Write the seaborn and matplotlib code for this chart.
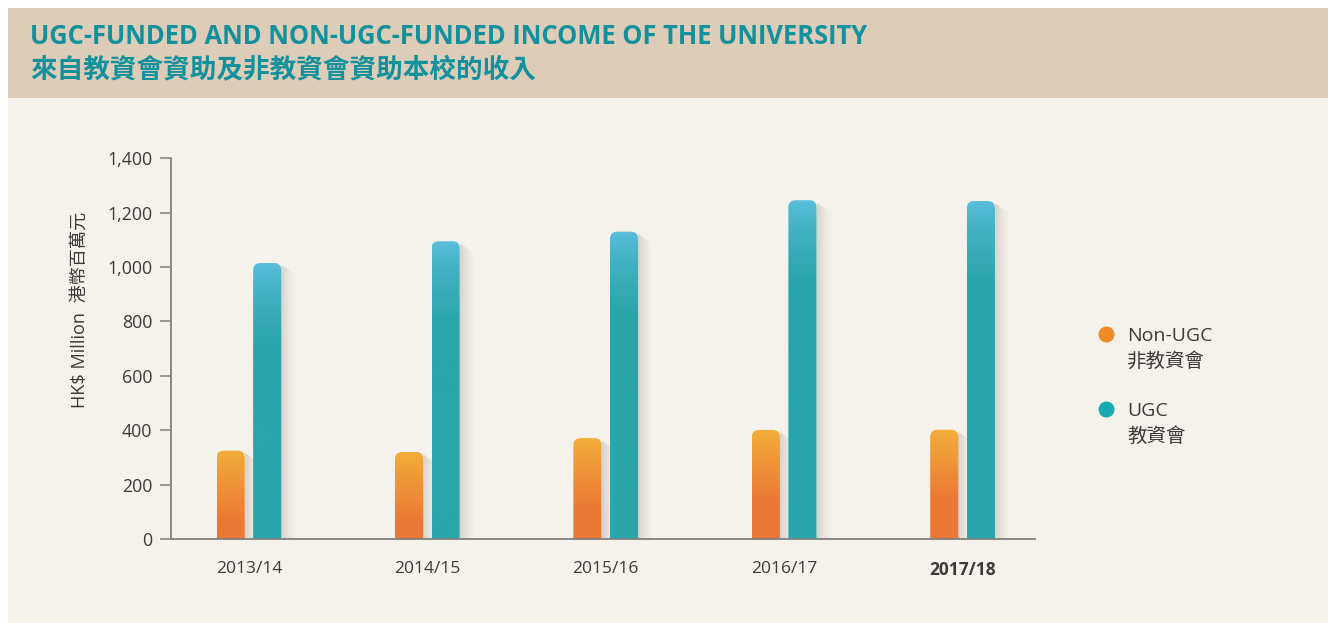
import numpy as np
import pandas as pd
import matplotlib
matplotlib.use("Agg")
import matplotlib.pyplot as plt
import seaborn as sns
from matplotlib.patches import FancyBboxPatch, Polygon, Rectangle
from matplotlib.lines import Line2D
from matplotlib.colors import to_rgb
from matplotlib.ticker import StrMethodFormatter

# Data (HK$ million)
years = ["2013/14", "2014/15", "2015/16", "2016/17", "2017/18"]
non_ugc = [325, 320, 371, 401, 402]
ugc = [1015, 1095, 1130, 1246, 1243]
series = ["Non-UGC", "UGC"]
series_zh = ["非教資會", "教資會"]

title_en = "UGC-FUNDED AND NON-UGC-FUNDED INCOME OF THE UNIVERSITY"
title_zh = "來自教資會資助及非教資會資助本校的收入"
ylabel = "HK$ Million  港幣百萬元"

# Colours
HEADER_BG = "#DDCDB8"
BODY_BG = "#F5F2EB"
TITLE_C = "#12909C"
TEXT_C = "#3A3A3A"
AXIS_C = "#7F7F7F"
ORANGE_TOP, ORANGE_BASE = "#F2AD3A", "#EB7836"
TEAL_TOP, TEAL_BASE = "#60C1E0", "#2AA5AB"

LATIN = "Open Sans"
CJK = "Noto Sans CJK TC"

W, H = 1328, 623


def build_frame():
    rows = []
    for yr, a, b in zip(years, non_ugc, ugc):
        rows.append({"year": yr, "series": series[0], "value": a})
        rows.append({"year": yr, "series": series[1], "value": b})
    return pd.DataFrame(rows)


def draw_fancy_bar(ax, x0, w, h, top_c, base_c, fade, ease=1.0):
    """Replace a flat bar with a rounded top, vertical gradient and soft shadow."""
    # soft grey shadow to the right
    x1 = x0 + w
    sw = 0.08
    shadow_clip = Polygon([(x1, 0), (x1, h - 8), (x1 + sw, h - 45), (x1 + sw, 0)],
                          closed=True, transform=ax.transData, facecolor="none", edgecolor="none")
    ax.add_patch(shadow_clip)
    n = 64
    sh = np.zeros((1, n, 4))
    sh[..., :3] = (0.70, 0.68, 0.66)
    sh[0, :, 3] = np.linspace(0.55, 0.0, n) ** 1.3
    im = ax.imshow(sh, extent=[x1, x1 + sw, 0, h], aspect="auto", zorder=1.5,
                   interpolation="bilinear", origin="lower")
    im.set_clip_path(shadow_clip)

    # rounded bar body
    rx, ry = 0.04, 27.0
    box = FancyBboxPatch((x0, -ry), w, h + ry,
                         boxstyle=f"round,pad=0,rounding_size={rx}",
                         mutation_aspect=ry / rx, transform=ax.transData,
                         facecolor="none", edgecolor="none")
    ax.add_patch(box)
    rows = 300
    yy = np.linspace(0, h, rows)
    t = np.clip((h - yy) / fade, 0, 1) ** ease
    t = t[:, None]
    top = np.array(to_rgb(top_c))
    base = np.array(to_rgb(base_c))
    img = top * (1 - t) + base * t
    im = ax.imshow(img[:, None, :], extent=[x0, x1, 0, h], aspect="auto", zorder=2,
                   interpolation="bilinear", origin="lower")
    im.set_clip_path(box)


def main():
    sns.set_theme(style="ticks")
    plt.rcParams["font.family"] = [LATIN, CJK]

    df = build_frame()

    fig = plt.figure(figsize=(W / 100, H / 100), dpi=100, facecolor="white")
    # header band and body background
    fig.add_artist(Rectangle((8 / W, 1 - 98 / H), 1320 / W, 90 / H,
                             transform=fig.transFigure, facecolor=HEADER_BG, edgecolor="none", zorder=0))
    fig.add_artist(Rectangle((8 / W, 0), 1320 / W, 1 - 98 / H,
                             transform=fig.transFigure, facecolor=BODY_BG, edgecolor="none", zorder=0))

    fig.text(30 / W, 1 - 44 / H, title_en, fontsize=18.4, fontweight="bold", color=TITLE_C,
             va="baseline", ha="left")
    fig.text(30 / W, 1 - 78 / H, title_zh, fontsize=19.2, fontweight="bold", color=TITLE_C,
             va="baseline", ha="left", family=[CJK])

    ax = fig.add_axes([171 / W, 84 / H, 864 / W, 380.7 / H])
    ax.set_facecolor("none")

    palette = {series[0]: ORANGE_BASE, series[1]: TEAL_BASE}
    sns.barplot(data=df, x="year", y="value", hue="series", hue_order=series, order=years,
                palette=palette, width=0.41, gap=0.23, saturation=1, legend=False, ax=ax)

    # turn each flat bar into a styled bar
    for p in list(ax.patches):
        x0, w, h = p.get_x(), p.get_width(), p.get_height()
        if h <= 0:
            continue
        is_orange = np.allclose(p.get_facecolor()[:3], to_rgb(ORANGE_BASE), atol=0.01)
        p.set_visible(False)
        if is_orange:
            draw_fancy_bar(ax, x0, w, h, ORANGE_TOP, ORANGE_BASE, fade=260)
        else:
            draw_fancy_bar(ax, x0, w, h, TEAL_TOP, TEAL_BASE, fade=300, ease=0.6)

    ax.set_xlim(-0.437, 4.406)
    ax.set_ylim(0, 1400)
    ax.set_yticks(range(0, 1401, 200))
    ax.yaxis.set_major_formatter(StrMethodFormatter("{x:,.0f}"))
    ax.set_xlabel("")
    ax.set_ylabel("")

    for side in ["top", "right"]:
        ax.spines[side].set_visible(False)
    for side in ["left", "bottom"]:
        ax.spines[side].set_color(AXIS_C)
        ax.spines[side].set_linewidth(1.3)
        ax.spines[side].set_zorder(3)

    ax.tick_params(axis="y", length=7.9, width=1.1, color=AXIS_C, pad=5.5,
                   labelsize=12.8, labelcolor=TEXT_C)
    ax.tick_params(axis="x", length=0, pad=16, labelsize=12.5, labelcolor=TEXT_C)
    ax.get_xticklabels()[-1].set_fontweight("bold")

    fig.text(80 / W, 1 - 310 / H, ylabel, rotation=90, ha="center", va="center",
             fontsize=13.1, color=TEXT_C)

    # legend drawn by hand so the dot sits on the first line
    dot_colors = ["#F28A26", "#17AAB3"]
    dot_y = [334, 409]
    for c, yp, en, zh in zip(dot_colors, dot_y, series, series_zh):
        fig.add_artist(Line2D([1106 / W], [1 - yp / H], marker="o", markersize=10.5,
                              color=c, linestyle="none", transform=fig.transFigure))
        fig.text(1127 / W, 1 - (yp + 7) / H, en, fontsize=14, color=TEXT_C, va="baseline")
        fig.text(1127 / W, 1 - (yp + 33) / H, zh, fontsize=14, color=TEXT_C, va="baseline")

    fig.savefig("out.png", dpi=100, facecolor="white")


if __name__ == "__main__":
    main()
